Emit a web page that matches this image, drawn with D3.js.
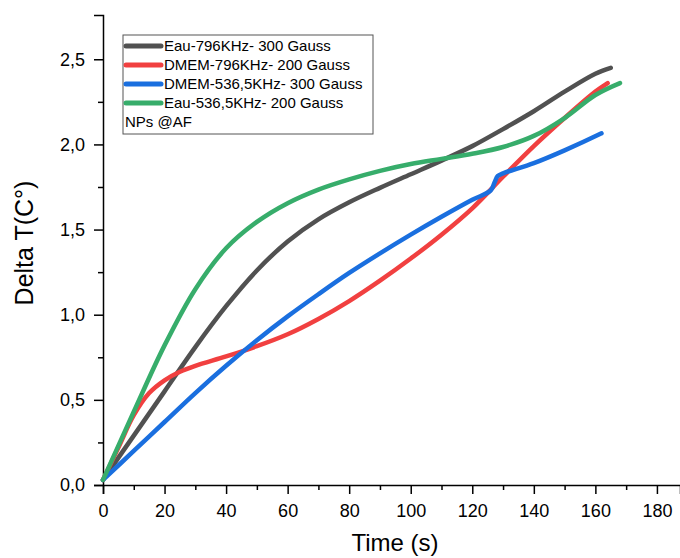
<!DOCTYPE html>
<html>
<head>
<meta charset="utf-8">
<script src="https://cdn.jsdelivr.net/npm/d3@7"></script>
<style>
  body { margin: 0; background: #fff; }
  .axis text { font-family: "Liberation Sans", Arial, sans-serif; font-size: 18px; fill: #000; }
  .axis path, .axis line { stroke: #000; stroke-width: 1.5; }
</style>
</head>
<body>
<div class="container"></div>
<script>
const seriesNames = [
  'Eau-796KHz- 300 Gauss',
  'DMEM-796KHz- 200 Gauss',
  'DMEM-536,5KHz- 300 Gauss',
  'Eau-536,5KHz- 200 Gauss',
];
const colors = ['#515151', '#F14040', '#1A6FDF', '#37AD6B'];

const timeBlack = [0, 10, 20, 30, 40, 50, 60, 70, 80, 90, 100, 110, 120, 130, 140, 150, 160, 165];
const eau796 = [0.03, 0.29, 0.55, 0.81, 1.05, 1.26, 1.43, 1.56, 1.66, 1.745, 1.825, 1.905, 1.99, 2.09, 2.195, 2.31, 2.415, 2.45];

const timeRed = [0, 5, 10, 15, 20, 25, 30, 40, 50, 60, 70, 80, 90, 100, 110, 120, 130, 140, 150, 160, 164];
const dmem796 = [0.03, 0.22, 0.41, 0.54, 0.615, 0.665, 0.70, 0.755, 0.815, 0.885, 0.975, 1.08, 1.2, 1.33, 1.47, 1.625, 1.81, 1.99, 2.155, 2.31, 2.36];

const timeBlue = [0, 10, 20, 30, 40, 50, 60, 70, 80, 90, 100, 110, 120, 126, 127.3, 128.3, 130, 140, 150, 162];
const dmem536 = [0.03, 0.2, 0.37, 0.54, 0.7, 0.85, 0.99, 1.12, 1.245, 1.36, 1.47, 1.575, 1.675, 1.73, 1.78, 1.815, 1.83, 1.89, 1.965, 2.065];

const timeGreen = [0, 10, 20, 30, 40, 50, 60, 70, 80, 90, 100, 110, 120, 130, 140, 150, 160, 168];
const eau536 = [0.03, 0.43, 0.82, 1.15, 1.39, 1.545, 1.655, 1.735, 1.795, 1.845, 1.885, 1.915, 1.945, 1.985, 2.05, 2.155, 2.29, 2.36];

const xTicks = [0, 20, 40, 60, 80, 100, 120, 140, 160, 180];
const xMinor = [10, 30, 50, 70, 90, 110, 130, 150, 170];
const yTicks = [0, 0.5, 1, 1.5, 2, 2.5];
const yMinor = [0.25, 0.75, 1.25, 1.75, 2.25];

const width = 680;
const height = 558;
const margin = { top: 15, left: 103, right: 0, bottom: 73 };

const xScale = d3.scaleLinear().domain([0, 187.5]).range([margin.left, width - margin.right]);
const yScale = d3.scaleLinear().domain([0, 2.76]).range([height - margin.bottom, margin.top]);

const svg = d3.select('.container').append('svg')
  .attr('width', width)
  .attr('height', height);

const fmt = d => d3.format('.1f')(d).replace('.', ',');

// minor ticks
svg.append('g')
  .attr('class', 'axis')
  .attr('transform', `translate(0, ${yScale(0)})`)
  .call(d3.axisBottom(xScale).tickValues(xMinor).tickSize(5).tickFormat(''))
  .call(g => g.select('.domain').remove());
svg.append('g')
  .attr('class', 'axis')
  .attr('transform', `translate(${xScale(0)}, 0)`)
  .call(d3.axisLeft(yScale).tickValues(yMinor).tickSize(5).tickFormat(''))
  .call(g => g.select('.domain').remove());

svg.append('g')
  .attr('class', 'axis')
  .attr('transform', `translate(0, ${yScale(0)})`)
  .call(d3.axisBottom(xScale).tickValues(xTicks).tickSizeOuter(0).tickSize(9).tickPadding(10));

svg.append('g')
  .attr('class', 'axis')
  .attr('transform', `translate(${xScale(0)}, 0)`)
  .call(d3.axisLeft(yScale).tickValues(yTicks).tickSizeOuter(0).tickSize(9).tickPadding(9).tickFormat(fmt));

const line = d3.line()
  .x(d => xScale(d[0]))
  .y(d => yScale(d[1]))
  .curve(d3.curveCatmullRom.alpha(0.5));

const series = [
  d3.zip(timeBlack, eau796),
  d3.zip(timeRed, dmem796),
  d3.zip(timeBlue, dmem536),
  d3.zip(timeGreen, eau536),
];

svg.append('g')
  .selectAll('path')
  .data(series)
  .enter()
  .append('path')
  .attr('d', d => line(d))
  .attr('fill', 'none')
  .attr('stroke', (d, i) => colors[i])
  .attr('stroke-width', 4.5)
  .attr('stroke-linecap', 'round')
  .attr('stroke-linejoin', 'round');

// legend
const legend = svg.append('g').attr('transform', 'translate(123, 35)');
legend.append('rect')
  .attr('width', 250)
  .attr('height', 99)
  .attr('fill', '#fff')
  .attr('stroke', '#555')
  .attr('stroke-width', 1);

const items = legend.selectAll('g.item')
  .data(seriesNames)
  .enter()
  .append('g')
  .attr('class', 'item')
  .attr('transform', (d, i) => `translate(0, ${11 + i * 19})`);

items.append('line')
  .attr('x1', 3).attr('x2', 38)
  .attr('stroke', (d, i) => colors[i])
  .attr('stroke-width', 5)
  .attr('stroke-linecap', 'round');

items.append('text')
  .attr('x', 41)
  .attr('dy', '0.35em')
  .style('font-family', '"Liberation Sans", Arial, sans-serif')
  .style('font-size', '15px')
  .text(d => d);

legend.append('text')
  .attr('x', 2)
  .attr('y', 87)
  .attr('dy', '0.35em')
  .style('font-family', '"Liberation Sans", Arial, sans-serif')
  .style('font-size', '15px')
  .text('NPs @AF');

svg.append('text')
  .attr('x', 395)
  .attr('y', 551)
  .attr('text-anchor', 'middle')
  .style('font-family', '"Liberation Sans", Arial, sans-serif')
  .style('font-size', '24px')
  .text('Time (s)');

svg.append('text')
  .attr('transform', 'translate(33, 243) rotate(-90)')
  .attr('text-anchor', 'middle')
  .style('font-family', '"Liberation Sans", Arial, sans-serif')
  .style('font-size', '25px')
  .text('Delta T(C°)');
</script>
</body>
</html>
